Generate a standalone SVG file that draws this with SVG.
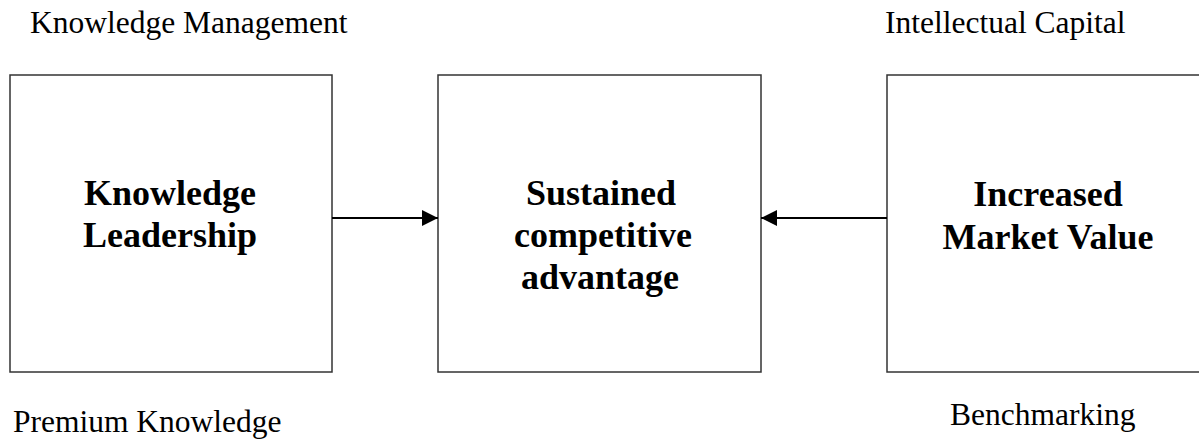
<svg xmlns="http://www.w3.org/2000/svg" width="1199" height="443" viewBox="0 0 1199 443">
<defs>
<style>
.box{fill:#fff;stroke:#333;stroke-width:1.5}
.bold{font-family:"Liberation Serif","Times New Roman",serif;font-weight:bold;font-size:36px;fill:#000;text-anchor:middle}
.lab{font-family:"Liberation Serif","Times New Roman",serif;font-size:31.5px;fill:#000}
.conn{stroke:#000;stroke-width:2;fill:none}
</style>
<marker id="ah" markerUnits="userSpaceOnUse" markerWidth="18" markerHeight="18" refX="16" refY="8" orient="auto">
<path d="M0,0 L16,8 L0,16 Z" fill="#000"/>
</marker>
</defs>
<rect width="1199" height="443" fill="#fff"/>
<g id="labels">
<text class="lab" x="30" y="33">Knowledge Management</text>
<text class="lab" x="885" y="33">Intellectual Capital</text>
<text class="lab" x="13" y="432">Premium Knowledge</text>
<text class="lab" x="950" y="425">Benchmarking</text>
</g>
<g id="node-knowledge-leadership">
<rect class="box" x="10" y="75" width="322" height="297"/>
<text class="bold" x="170" y="205">Knowledge</text>
<text class="bold" x="170" y="247">Leadership</text>
</g>
<g id="node-sustained">
<rect class="box" x="438" y="75" width="323" height="297"/>
<text class="bold" x="601" y="205">Sustained</text>
<text class="bold" x="603" y="247">competitive</text>
<text class="bold" x="600" y="289">advantage</text>
</g>
<g id="node-market-value">
<rect class="box" x="887" y="75" width="323" height="297"/>
<text class="bold" x="1048" y="206">Increased</text>
<text class="bold" x="1048" y="249">Market Value</text>
</g>
<g id="connectors">
<line class="conn" x1="332" y1="218" x2="438" y2="218" marker-end="url(#ah)"/>
<line class="conn" x1="887" y1="218" x2="761" y2="218" marker-end="url(#ah)"/>
</g>
</svg>
